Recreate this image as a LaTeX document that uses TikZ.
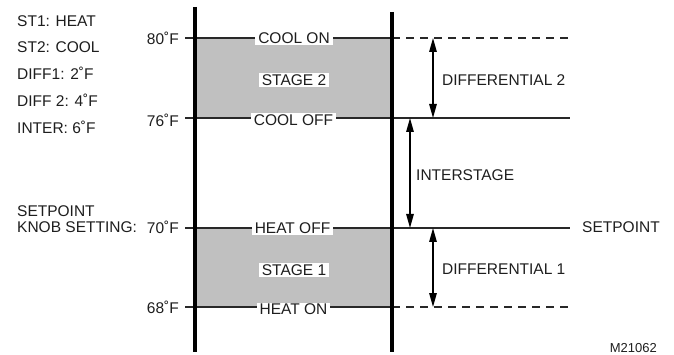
\documentclass[tikz,border=0pt]{standalone}
\usepackage{fontspec}
\setmainfont{Liberation Sans}
\usetikzlibrary{arrows.meta}
\definecolor{txt}{RGB}{30,30,30}
\definecolor{lin}{RGB}{40,40,40}
\definecolor{shd}{RGB}{192,192,192}
\begin{document}
\begin{tikzpicture}[x=1pt,y=-1pt,
  lbl/.style={font=\fontsize{15.5}{18}\selectfont, text=txt, inner sep=0pt},
  boxlbl/.style={lbl, fill=white, inner xsep=3pt, inner ysep=1.5pt},
  hline/.style={draw=lin, line width=1.3pt},
  dline/.style={hline, dash pattern=on 8pt off 6pt},
  bar/.style={draw=black, line width=4.5pt},
  stagefill/.style={fill=shd},
  dimarrow/.style={draw=black, line width=1.4pt, {Triangle[length=14pt,width=7.5pt]}-{Triangle[length=14pt,width=7.5pt]}}]
\useasboundingbox (0,0) rectangle (674,355);
% shaded stages
\fill[stagefill] (195,38) rectangle (392,118);
\fill[stagefill] (195,228) rectangle (392,307);
% temperature lines
\coordinate (l80) at (185,38);  \coordinate (m80) at (392,38);  \coordinate (r80) at (570,38);
\coordinate (l76) at (185,118); \coordinate (r76) at (570,118);
\coordinate (l70) at (185,228); \coordinate (r70) at (570,228);
\coordinate (l68) at (185,307); \coordinate (m68) at (392,307); \coordinate (r68) at (570,307);
\draw[hline] (l80) -- (m80);
\draw[dline] (m80) -- (r80);
\draw[hline] (l76) -- (r76);
\draw[hline] (l70) -- (r70);
\draw[hline] (l68) -- (m68);
\draw[dline] (m68) -- (r68);
% vertical bars
\coordinate (lbt) at (195,7);  \coordinate (lbb) at (195,352);
\coordinate (rbt) at (392,12); \coordinate (rbb) at (392,352);
\draw[bar] (lbt) -- (lbb);
\draw[bar] (rbt) -- (rbb);
% labels on lines
\node[boxlbl] (coolon) at (294,38.5) {COOL ON};
\node[boxlbl] (st2) at (294,80) {STAGE 2};
\node[boxlbl] (cooloff) at (293.5,120) {COOL OFF};
\node[boxlbl] (heatoff) at (292.5,228) {HEAT OFF};
\node[boxlbl] (st1) at (294,270) {STAGE 1};
\node[boxlbl] (heaton) at (293.5,309.5) {HEAT ON};
% temperature labels
\node[lbl, anchor=east] (t80) at (179,38) {80˚F};
\node[lbl, anchor=east] (t76) at (179,120) {76˚F};
\node[lbl, anchor=east] (t70) at (179,227) {70˚F};
\node[lbl, anchor=east] (t68) at (179,307.5) {68˚F};
% left legend
\node[lbl, anchor=west] (a1) at (17,21) {ST1: HEAT};
\node[lbl, anchor=west] (a2) at (17,47) {ST2: COOL};
\node[lbl, anchor=west] (a3) at (17,73) {DIFF1: 2˚F};
\node[lbl, anchor=west] (a4) at (17,100) {DIFF 2: 4˚F};
\node[lbl, anchor=west] (a5) at (17,127) {INTER: 6˚F};
\node[lbl, anchor=west] (sp1) at (17,211.5) {SETPOINT};
\node[lbl, anchor=west] (sp2) at (17,227) {KNOB SETTING:};
% dimension arrows
\coordinate (d2t) at (433,38);  \coordinate (d2b) at (433,118);
\coordinate (ist) at (410,118); \coordinate (isb) at (410,228);
\coordinate (d1t) at (433,228); \coordinate (d1b) at (433,307);
\draw[dimarrow] (d2t) -- (d2b);
\draw[dimarrow] (ist) -- (isb);
\draw[dimarrow] (d1t) -- (d1b);
\node[lbl, anchor=west] (dif2) at (442,80) {DIFFERENTIAL 2};
\node[lbl, anchor=west] (inter) at (416,175.5) {INTERSTAGE};
\node[lbl, anchor=west] (setp) at (582,227) {SETPOINT};
\node[lbl, anchor=west] (dif1) at (442,269.5) {DIFFERENTIAL 1};
\node[lbl, anchor=east, font=\fontsize{13}{15}\selectfont] (code) at (657,348) {M21062};
\end{tikzpicture}
\end{document}
